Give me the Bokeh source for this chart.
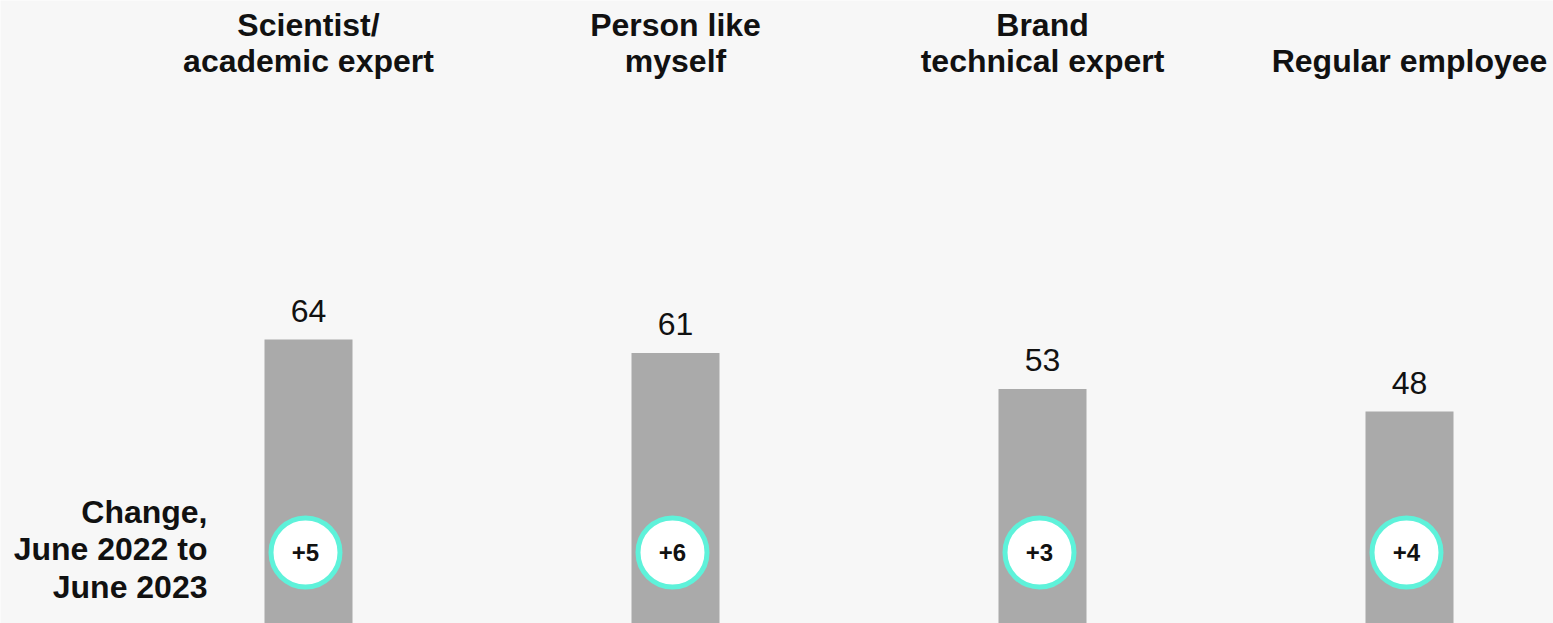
from bokeh.plotting import figure
from bokeh.models import Range1d
from bokeh.core.properties import value
from bokeh.embed import file_html
from bokeh.resources import INLINE

# ---- data ----
categories = ["Scientist/\nacademic expert", "Person like\nmyself",
              "Brand\ntechnical expert", "Regular employee"]
trust_2023 = [64, 61, 53, 48]
change_labels = ["+5", "+6", "+3", "+4"]
side_label = ["Change,", "June 2022 to", "June 2023"]

# ---- layout (pixel geometry) ----
W, H = 1553, 623
OX, OY = 0, 0
X0, DX = 308, 367      # first bar centre (px), spacing between bars (px)
Y0, DY = 627, 4.5      # pixel of value 0, px per unit
BAR_W_PX = 88

def dx(px):
    return (px - X0) / DX

def dy(py):
    return (Y0 - py) / DY

FONT = value("Liberation Sans")
BG = "#f7f7f7"
TXT = "#111111"
BAR = "#aaaaaa"
RING = "#5ef2da"

p = figure(width=W, height=H, output_backend="svg", toolbar_location=None,
           x_range=Range1d(dx(OX), dx(OX + W)),
           y_range=Range1d(dy(OY + H), dy(OY)),
           x_axis_location=None, y_axis_location=None,
           min_border=0, min_border_left=0, min_border_right=0,
           min_border_top=0, min_border_bottom=0)
p.grid.visible = False
p.outline_line_color = None
p.background_fill_color = BG
p.border_fill_color = BG

idx = list(range(len(categories)))

# bars
p.vbar(x=idx, top=trust_2023, bottom=0, width=BAR_W_PX / DX,
       fill_color=BAR, line_color=None)

# value labels above bars
p.text(x=idx, y=[v + 29 / DY for v in trust_2023], text=[str(v) for v in trust_2023],
       text_font=FONT, text_font_size="32px", text_color=TXT,
       text_align="center", text_baseline="alphabetic")

# headers (bottom aligned, each line separately)
hx, hy, ht = [], [], []
for i, c in enumerate(categories):
    lines = c.split("\n")
    n = len(lines)
    for j, ln in enumerate(lines):
        base_px = 60 - (n - 1 - j) * 36
        hx.append(i)
        hy.append(dy(base_px))
        ht.append(ln)
p.text(x=hx, y=hy, text=ht, text_font=FONT, text_font_size="32px",
       text_font_style="bold", text_color=TXT,
       text_align="center", text_baseline="alphabetic")

# change circles
cx = [i - 3 / DX for i in idx]
cy = [dy(552)] * len(idx)
p.scatter(x=cx, y=cy, size=69, marker="circle", fill_color="white",
          line_color=RING, line_width=5)
p.text(x=cx, y=cy, text=change_labels, text_font=FONT, text_font_size="24px",
       text_font_style="bold", text_color=TXT,
       text_align="center", text_baseline="middle")

# side label
sb = [511, 548.5, 586]
p.text(x=[dx(207)] * len(side_label), y=[dy(b) for b in sb], text=side_label,
       text_font=FONT, text_font_size="32px", text_font_style="bold",
       text_color=TXT, text_align="right", text_baseline="alphabetic")

open("out.html", "w").write(file_html(p, INLINE))
